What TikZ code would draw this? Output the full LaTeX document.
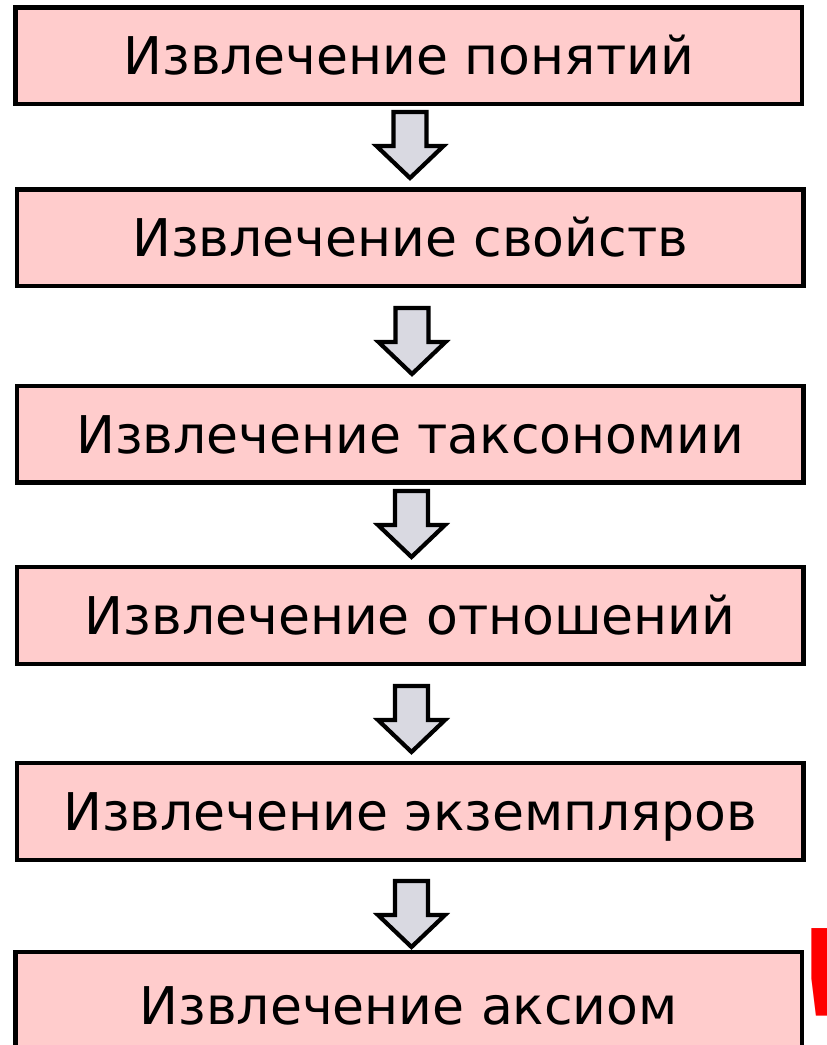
\documentclass[tikz,border=0pt]{standalone}
\usepackage{fontspec}
\setmainfont{DejaVu Sans}
\usetikzlibrary{calc}
\definecolor{stagepink}{RGB}{255,204,204}
\definecolor{arrowgray}{RGB}{217,217,225}
\tikzset{
  stagebox/.style={draw=black, line width=4.4pt, fill=stagepink, rectangle,
    minimum width=786.5pt, minimum height=96.5pt, inner sep=0pt},
  stagetext/.style={anchor=base, inner sep=0pt, font=\fontsize{52}{52}\selectfont},
  downarrow/.pic={
    \draw[line width=4.2pt, fill=arrowgray, line join=miter]
      (-16.5,0) -- (16.5,0) -- (16.5,34) -- (33.5,34) -- (0,66)
      -- (-33.5,34) -- (-16.5,34) -- cycle;
  }
}
\begin{document}
\begin{tikzpicture}[x=1pt, y=-1pt]
\clip (0,0) rectangle (827,1045);
\fill[white] (0,0) rectangle (827,1045);

% process stages
\node[stagebox] (b1) at (408.75,55.75) {};
\node[stagebox] (b2) at (410.25,237.75) {};
\node[stagebox] (b3) at (410.25,434.25) {};
\node[stagebox] (b4) at (410.25,615.5) {};
\node[stagebox] (b5) at (410.25,811.5) {};
\node[stagebox] (b6) at (408.75,1000.25) {};

\node[stagetext] (t1) at ($(b1.center)+(0,19)$) {Извлечение понятий};
\node[stagetext] (t2) at ($(b2.center)+(0,19)$) {Извлечение свойств};
\node[stagetext] (t3) at ($(b3.center)+(0,19)$) {Извлечение таксономии};
\node[stagetext] (t4) at ($(b4.center)+(0,19)$) {Извлечение отношений};
\node[stagetext] (t5) at ($(b5.center)+(0,19)$) {Извлечение экземпляров};
\node[stagetext] (t6) at ($(b6.center)+(0,24)$) {Извлечение аксиом};

% block arrows between the stages
\pic at (410,112) {downarrow};
\pic at (412,308) {downarrow};
\pic at (411.5,491) {downarrow};
\pic at (411.5,686) {downarrow};
\pic at (411.5,881) {downarrow};

% exclamation mark beside the last stage
\begin{scope}
  \clip (805,900) rectangle (827,1016);
  \node[anchor=base west, inner sep=0pt, text=red,
        font=\bfseries\fontsize{181}{181}\selectfont] (excl) at (786,1060) {!};
\end{scope}
\end{tikzpicture}
\end{document}
